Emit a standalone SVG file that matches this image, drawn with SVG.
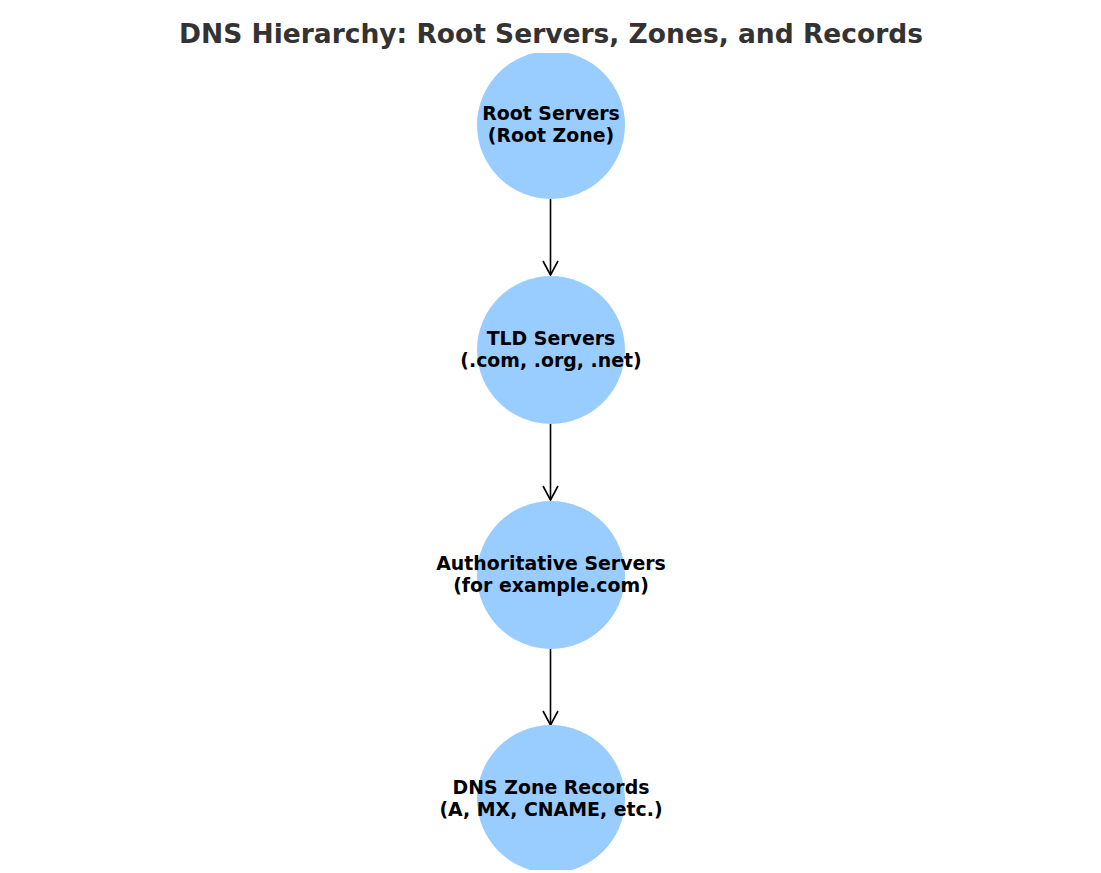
<svg xmlns="http://www.w3.org/2000/svg" width="1101" height="873" viewBox="0 0 1101 873">
<defs>
<style>
.title{font-family:"DejaVu Sans",sans-serif;font-weight:bold;font-size:26.5px;fill:#333333;text-anchor:middle}
.lbl{font-family:"DejaVu Sans",sans-serif;font-weight:bold;font-size:18.9px;fill:#000000;text-anchor:middle}
.node circle{fill:#99ccff}
.edge{stroke:#000;stroke-width:1.6;fill:none}
.head{stroke:#000;stroke-width:1.6;fill:none;stroke-linecap:butt}
</style>
<clipPath id="ax"><rect x="0" y="53" width="1101" height="817"/></clipPath>
</defs>
<rect width="1101" height="873" fill="#ffffff"/>
<text class="title" x="551" y="43">DNS Hierarchy: Root Servers, Zones, and Records</text>
<g clip-path="url(#ax)">
<g id="connectors">
<path class="edge" d="M550.5 199 V275"/>
<path class="head" d="M543 261 L550.5 275 L558 261"/>
<path class="edge" d="M550.5 424 V500"/>
<path class="head" d="M543 486 L550.5 500 L558 486"/>
<path class="edge" d="M550.5 649 V725"/>
<path class="head" d="M543 711 L550.5 725 L558 711"/>
</g>
<g id="root" class="node"><circle cx="551" cy="125" r="74"/>
<text class="lbl" x="551" y="119.5">Root Servers</text><text class="lbl" x="551" y="141.5">(Root Zone)</text></g>
<g id="tld" class="node"><circle cx="551" cy="350" r="74"/>
<text class="lbl" x="551" y="344.5">TLD Servers</text><text class="lbl" x="551" y="366.5">(.com, .org, .net)</text></g>
<g id="auth" class="node"><circle cx="551" cy="575" r="74"/>
<text class="lbl" x="551" y="569.5">Authoritative Servers</text><text class="lbl" x="551" y="591.5">(for example.com)</text></g>
<g id="records" class="node"><circle cx="551" cy="799" r="74"/>
<text class="lbl" x="551" y="793.5">DNS Zone Records</text><text class="lbl" x="551" y="815.5">(A, MX, CNAME, etc.)</text></g>
</g>
</svg>
